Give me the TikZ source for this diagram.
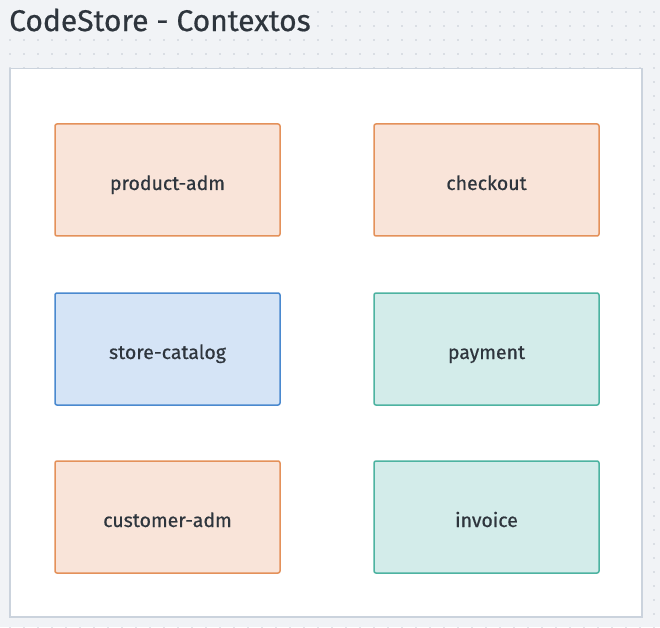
\documentclass[tikz,border=0pt]{standalone}
\usepackage{fontspec}
\setmainfont{Fira Sans}
\newfontfamily\medfont{Fira Sans}[FakeBold=0.6]
\definecolor{pagebg}{HTML}{F1F3F6}
\definecolor{dotc}{HTML}{C3C9D2}
\definecolor{frame}{HTML}{CBD3DD}
\definecolor{ofill}{HTML}{F9E4D9}
\definecolor{odraw}{HTML}{E4915A}
\definecolor{bfill}{HTML}{D5E4F6}
\definecolor{bdraw}{HTML}{4A89CF}
\definecolor{tfill}{HTML}{D3ECEA}
\definecolor{tdraw}{HTML}{4DB3A1}
\definecolor{txt}{HTML}{2E353D}
\tikzset{
  ctx/.style={rectangle, rounded corners=2pt, minimum width=225pt, minimum height=112pt,
    line width=1.5pt, text=txt, font=\medfont\fontsize{19.5}{22}\selectfont, inner sep=0pt,
    text height=20pt, text depth=0pt},
  octx/.style={ctx, fill=ofill, draw=odraw},
  bctx/.style={ctx, fill=bfill, draw=bdraw},
  tctx/.style={ctx, fill=tfill, draw=tdraw},
}
\begin{document}
\begin{tikzpicture}[x=1pt,y=1pt]
\fill[pagebg] (0,0) rectangle (660,627);
\useasboundingbox (0,0) rectangle (660,627);
% dot grid
\foreach \i in {0,...,46} {
  \foreach \j in {0,...,44} {
    \fill[dotc] ({10+14*\i},{627-12-14*\j}) circle (0.8);
  }
}
% title
\node[fill=pagebg, anchor=west, inner sep=0pt, minimum height=34pt, text=txt,
  font=\medfont\fontsize{30}{34}\selectfont] (title) at (9,607) {CodeStore - Contextos\hspace{4pt}};
% container
\fill[frame!60] (11,9) rectangle (643,557);
\node[draw=frame, line width=1.5pt, fill=white, rectangle, minimum width=632pt, minimum height=548pt,
  inner sep=0pt, anchor=north west] (cont) at (9,559) {};
% contexts
\node[octx] (prod) at (167.5,447) {product-adm};
\node[octx] (chk)  at (486.5,447) {checkout};
\node[bctx] (cat)  at (167.5,278) {store-catalog};
\node[tctx] (pay)  at (486.5,278) {payment};
\node[octx] (cust) at (167.5,110) {customer-adm};
\node[tctx] (inv)  at (486.5,110) {invoice};
\end{tikzpicture}
\end{document}
